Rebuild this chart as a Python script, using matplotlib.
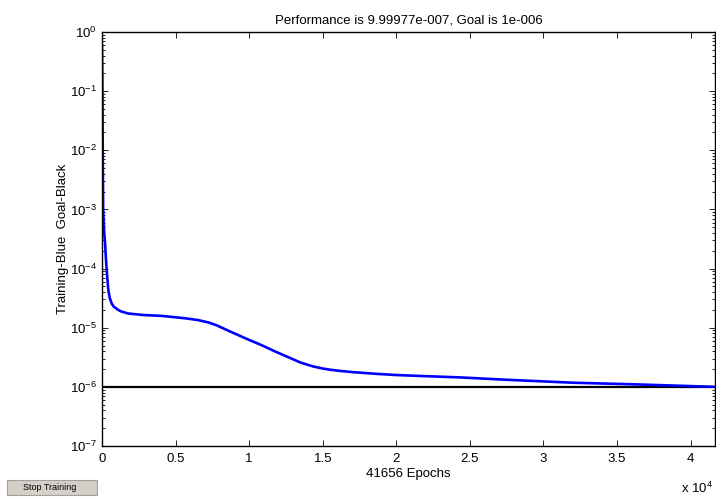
import matplotlib
matplotlib.use("Agg")
import matplotlib.pyplot as plt
from matplotlib.patches import Rectangle
from matplotlib.ticker import FuncFormatter, LogLocator, FixedLocator

plt.rcParams['font.family'] = ['Liberation Sans', 'DejaVu Sans']
plt.rcParams['mathtext.fontset'] = 'custom'
plt.rcParams['mathtext.rm'] = 'Liberation Sans'
plt.rcParams['mathtext.it'] = 'Liberation Sans'

# Data
epochs = [0, 30, 50, 80, 150, 204, 260, 316, 380, 430, 520, 656, 800, 1109, 1300,
          1788, 2800, 4053, 5637, 6500, 7222, 7800, 8580, 9938, 10800, 11749, 12767,
          13500, 14352, 15000, 15500, 16163, 17000, 18655, 20000, 22051, 24312,
          27484, 32010, 36537, 41656]
perf = [0.6, 1e-1, 1e-2, 1e-3, 10**-3.4, 10**-3.55, 10**-3.8, 10**-4.02, 10**-4.22,
        10**-4.36, 10**-4.49, 10**-4.59, 10**-4.645, 10**-4.70, 10**-4.725,
        10**-4.76, 10**-4.785, 10**-4.80, 10**-4.84, 10**-4.87, 10**-4.91, 10**-4.96,
        10**-5.05, 10**-5.20, 10**-5.29, 10**-5.40, 10**-5.51, 10**-5.59, 10**-5.655,
        10**-5.69, 10**-5.71, 10**-5.73, 10**-5.75, 10**-5.78, 10**-5.80, 10**-5.82,
        10**-5.84, 10**-5.88, 10**-5.93, 10**-5.96, 9.99977e-7]
goal = 1e-6
total_epochs = 41656
xticks = [0, 5000, 10000, 15000, 20000, 25000, 30000, 35000, 40000]
title = "Performance is 9.99977e-007, Goal is 1e-006"
ylabel = "Training-Blue  Goal-Black"
xlabel = "41656 Epochs"

fig = plt.figure(figsize=(7.16, 4.97), dpi=100)
ax = fig.add_axes([102/716, 1-446/497, 613/716, (446-32)/497])

ax.plot([0, total_epochs], [goal, goal], color='black', lw=1.6)
ax.plot(epochs, perf, color='#0000ff', lw=1.9, solid_joinstyle='round')

ax.set_yscale('log')
ax.set_xlim(0, total_epochs)
ax.set_ylim(1e-7, 1)
ax.xaxis.set_major_locator(FixedLocator(xticks))
ax.xaxis.set_major_formatter(FuncFormatter(lambda v, p: f"{v/1e4:g}"))
ax.yaxis.set_major_locator(LogLocator(base=10, numticks=10))
ax.yaxis.set_minor_locator(LogLocator(base=10, subs=range(2, 10), numticks=20))

ax.tick_params(which='both', direction='in', top=True, right=True, labelsize=9.5,
               width=0.6, colors='black')
ax.tick_params(which='major', length=4)
ax.tick_params(which='minor', length=2)
ax.tick_params(axis='x', pad=5)
for s in ax.spines.values():
    s.set_linewidth(1.0)

ax.set_title(title, fontsize=9.5, pad=6)
ax.set_ylabel(ylabel, fontsize=9.5, labelpad=1)
ax.set_xlabel(xlabel, fontsize=9.5, labelpad=2)

fig.text(681/716, 1-488/497, r"x 10$^{4}$", fontsize=9.5, ha='left', va='center')

# Stop Training button
fig.patches.append(Rectangle((7/716, 2/497), 90/716, 15/497, transform=fig.transFigure,
                             facecolor='#d4d0c8', edgecolor='#a0a0a0', lw=0.8))
fig.text(50/716, 9.5/497, "Stop Training", fontsize=6.5, ha='center', va='center')

fig.savefig("out.png", dpi=100)
